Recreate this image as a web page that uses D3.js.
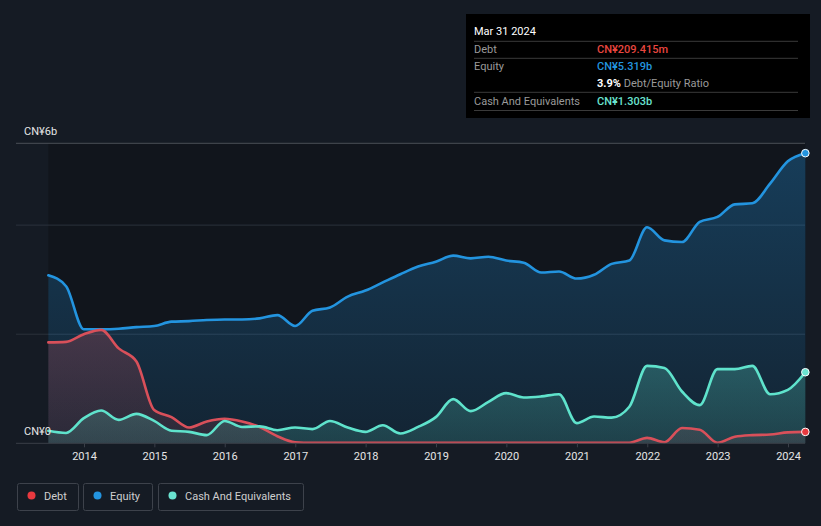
<!DOCTYPE html>
<html>
<head>
<meta charset="utf-8">
<script src="https://cdn.jsdelivr.net/npm/d3@7"></script>
<style>
  html, body { margin: 0; padding: 0; background: #151b24; }
  svg { display: block; font-family: Roboto, "Noto Sans", sans-serif; }
</style>
</head>
<body>
<svg id="chart" width="821" height="526"></svg>
<script>
// ---- data (CN¥ billions, quarter ends) ----
const dates = [
  "2013-06-30","2013-09-30","2013-12-31","2014-03-31","2014-06-30","2014-09-30","2014-12-31",
  "2015-03-31","2015-06-30","2015-09-30","2015-12-31","2016-03-31","2016-06-30","2016-09-30","2016-12-31",
  "2017-03-31","2017-06-30","2017-09-30","2017-12-31","2018-03-31","2018-06-30","2018-09-30","2018-12-31",
  "2019-03-31","2019-06-30","2019-09-30","2019-12-31","2020-03-31","2020-06-30","2020-09-30","2020-12-31",
  "2021-03-31","2021-06-30","2021-09-30","2021-12-31","2022-03-31","2022-06-30","2022-09-30","2022-12-31",
  "2023-03-31","2023-06-30","2023-09-30","2023-12-31","2024-03-31"
];
const debt = [
  1.85,1.86,2.00,2.08,1.74,1.50,0.61,
  0.48,0.29,0.40,0.45,0.40,0.30,0.13,0.02,
  0.01,0.01,0.01,0.01,0.01,0.01,0.01,0.01,
  0.01,0.01,0.01,0.01,0.01,0.01,0.01,0.01,
  0.01,0.01,0.01,0.10,0.02,0.28,0.25,0.01,
  0.12,0.15,0.16,0.20,0.209
];
const equity = [
  3.08,2.88,2.09,2.09,2.10,2.13,2.15,
  2.23,2.24,2.26,2.27,2.27,2.29,2.35,2.15,
  2.43,2.49,2.69,2.80,2.95,3.10,3.24,3.33,
  3.44,3.39,3.42,3.35,3.31,3.13,3.15,3.02,
  3.09,3.29,3.35,3.96,3.72,3.69,4.06,4.15,
  4.38,4.40,4.76,5.17,5.319
];
const cash = [
  0.23,0.19,0.46,0.60,0.43,0.54,0.41,
  0.23,0.21,0.15,0.41,0.30,0.31,0.24,0.29,
  0.26,0.41,0.29,0.21,0.33,0.18,0.30,0.48,
  0.81,0.59,0.76,0.92,0.84,0.86,0.90,0.37,
  0.49,0.47,0.67,1.42,1.38,0.95,0.70,1.36,
  1.36,1.42,0.90,0.98,1.303
];
const yearTicks = [2014,2015,2016,2017,2018,2019,2020,2021,2022,2023,2024];
const gridValues = [2, 4];
const yLabels = ["CN¥6b", "CN¥0"];
const seriesNames = ["Debt", "Equity", "Cash And Equivalents"];
const tooltipTitle = "Mar 31 2024";
const tooltipRows = [
  { label: "Debt", value: "CN¥209.415m" },
  { label: "Equity", value: "CN¥5.319b" },
  { label: "", value: "3.9%", extra: " Debt/Equity Ratio" },
  { label: "Cash And Equivalents", value: "CN¥1.303b" }
];

// ---- setup ----
const svg = d3.select("#chart");
const parse = d3.timeParse("%Y-%m-%d");
const T = dates.map(parse);
const colors = { debt: "#d9505a", equity: "#2394df", cash: "#5fe3cc" };
const dotColors = { debt: "#e8393f", equity: "#2394df", cash: "#6ae3d0" };

const x = d3.scaleTime()
  .domain([new Date(2014, 0, 1), new Date(2024, 0, 1)])
  .range([84, 788]);
const y = d3.scaleLinear().domain([0, 5.5]).range([443.3, 143.3]);
const x0 = x(T[0]), x1 = x(T[T.length - 1]);

// plot background
svg.append("rect").attr("x", x0).attr("y", y(5.5)).attr("width", x1 - x0)
  .attr("height", y(0) - y(5.5)).attr("fill", "#11151c");

// gradients
const defs = svg.append("defs");
function grad(id, color, top, bottom) {
  const g = defs.append("linearGradient").attr("id", id)
    .attr("gradientUnits", "userSpaceOnUse")
    .attr("x1", 0).attr("x2", 0).attr("y1", y(5.5)).attr("y2", y(0));
  g.append("stop").attr("offset", 0).attr("stop-color", color).attr("stop-opacity", top);
  g.append("stop").attr("offset", 1).attr("stop-color", color).attr("stop-opacity", bottom);
}
grad("gEq", "#2394df", 0.32, 0.12);
grad("gDebt", "#d9505a", 0.45, 0.12);
grad("gCash", "#5fe3cc", 0.55, 0.15);

// gridlines
svg.append("g").selectAll("line").data(gridValues).join("line")
  .attr("x1", 16).attr("x2", 805)
  .attr("y1", d => y(d)).attr("y2", d => y(d))
  .attr("stroke", "#2b313b").attr("stroke-width", 1);
svg.append("line").attr("x1", 16).attr("x2", 805)
  .attr("y1", y(5.5)).attr("y2", y(5.5))
  .attr("stroke", "#4a4f57").attr("stroke-width", 1);

const curve = d3.curveMonotoneX;
function drawSeries(vals, key, gid) {
  const pts = vals.map((v, i) => [T[i], v]);
  const area = d3.area().curve(curve).x(d => x(d[0])).y0(y(0)).y1(d => y(d[1]));
  const line = d3.line().curve(curve).x(d => x(d[0])).y(d => y(d[1]));
  svg.append("path").attr("d", area(pts)).attr("fill", `url(#${gid})`);
  return () => svg.append("path").attr("d", line(pts)).attr("fill", "none")
    .attr("stroke", colors[key]).attr("stroke-width", 2.6)
    .attr("stroke-linejoin", "round").attr("stroke-linecap", "round");
}
const lEq = drawSeries(equity, "equity", "gEq");
const lDebt = drawSeries(debt, "debt", "gDebt");
const lCash = drawSeries(cash, "cash", "gCash");
lEq(); lDebt(); lCash();

// baseline
svg.append("line").attr("x1", 16).attr("x2", 805)
  .attr("y1", y(0)).attr("y2", y(0)).attr("stroke", "#3a3f48").attr("stroke-width", 1);

// end markers
const last = T.length - 1;
[["equity", equity], ["cash", cash], ["debt", debt]].forEach(([k, arr]) => {
  svg.append("circle").attr("cx", x(T[last])).attr("cy", y(arr[last])).attr("r", 3.8)
    .attr("fill", dotColors[k]).attr("stroke", "#ffffff").attr("stroke-width", 1);
});

// x axis
const xAxis = d3.axisBottom(x)
  .tickValues(yearTicks.map(yy => new Date(yy, 0, 1)))
  .tickFormat(d3.timeFormat("%Y"))
  .tickSize(4).tickPadding(5);
const gx = svg.append("g").attr("transform", `translate(0,${y(0)})`).call(xAxis);
gx.select(".domain").remove();
gx.selectAll(".tick line").attr("stroke", "#3a3f48");
gx.selectAll(".tick text").attr("fill", "#e6e6e6").attr("font-size", 11)
  .attr("font-family", "Roboto, sans-serif");

// y labels
svg.append("text").attr("x", 24).attr("y", 135).attr("fill", "#e6e6e6")
  .attr("font-size", 11).text(yLabels[0]);
svg.append("text").attr("x", 24).attr("y", 435).attr("fill", "#e6e6e6")
  .attr("font-size", 11).text(yLabels[1]);

// tooltip
const tt = svg.append("g");
tt.append("rect").attr("x", 466).attr("y", 14).attr("width", 344).attr("height", 104).attr("fill", "#000");
tt.append("text").attr("x", 474).attr("y", 35).attr("fill", "#fff").attr("font-size", 11).text(tooltipTitle);
[41.3, 58.3, 92.3, 110.5].forEach(yy => {
  tt.append("line").attr("x1", 474).attr("x2", 798).attr("y1", yy).attr("y2", yy)
    .attr("stroke", "#3a3a3a").attr("stroke-width", 1);
});
const rowY = [52.5, 70, 87, 104.5];
const valColors = ["#e8463f", "#2394df", "#ffffff", "#6ae3d0"];
tooltipRows.forEach((r, i) => {
  if (r.label) tt.append("text").attr("x", 474).attr("y", rowY[i]).attr("fill", "#9a9a9a")
    .attr("font-size", 11).text(r.label);
  const t = tt.append("text").attr("x", 597).attr("y", rowY[i]).attr("font-size", 11);
  t.append("tspan").attr("fill", valColors[i]).attr("font-weight", i === 2 ? 700 : 500).text(r.value);
  if (r.extra) t.append("tspan").attr("fill", "#9a9a9a").text(r.extra);
});

// legend
const legendItems = [
  { name: seriesNames[0], key: "debt", x: 17, w: 62 },
  { name: seriesNames[1], key: "equity", x: 83, w: 70 },
  { name: seriesNames[2], key: "cash", x: 158, w: 146 }
];
const lg = svg.append("g");
legendItems.forEach(it => {
  lg.append("rect").attr("x", it.x + 0.5).attr("y", 483.5).attr("width", it.w - 1).attr("height", 27)
    .attr("rx", 2).attr("fill", "none").attr("stroke", "#3d424b").attr("stroke-width", 1);
  lg.append("circle").attr("cx", it.x + 14.5).attr("cy", 495.5).attr("r", 4).attr("fill", dotColors[it.key]);
  lg.append("text").attr("x", it.x + 27).attr("y", 499.5).attr("fill", "#cfcfcf")
    .attr("font-size", 11).text(it.name);
});
</script>
</body>
</html>
